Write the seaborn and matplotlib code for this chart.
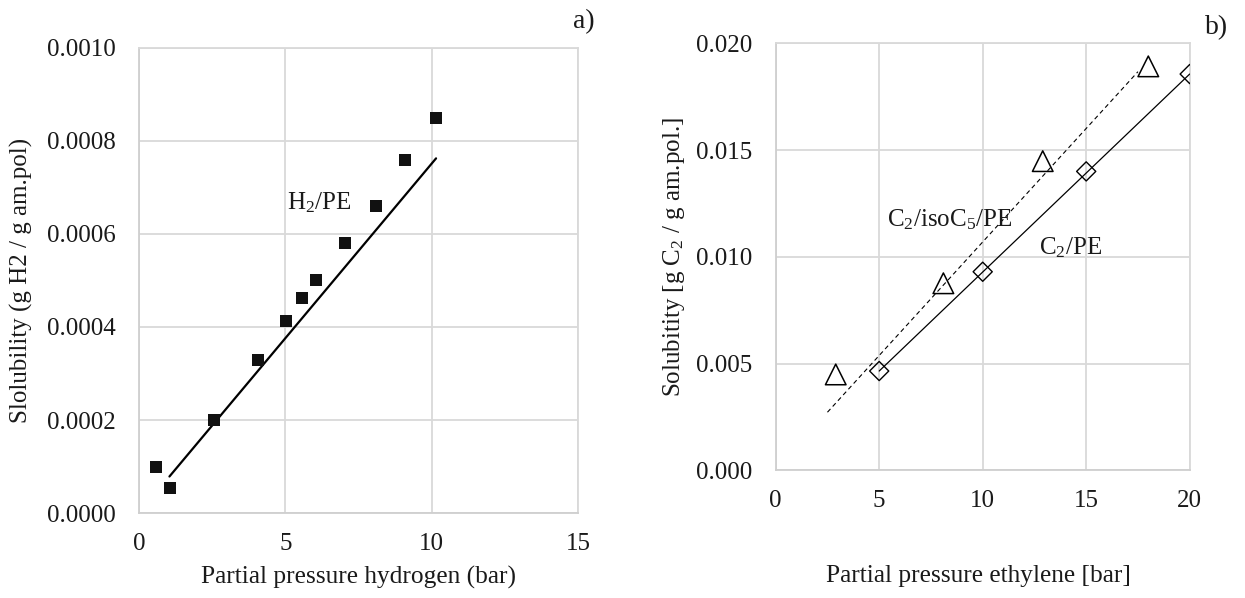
import matplotlib
matplotlib.use("Agg")
import matplotlib.pyplot as plt
import seaborn as sns
import pandas as pd

# ---- data: panel a) hydrogen solubility ----
h2_pressure = [0.57, 1.06, 2.56, 4.08, 5.03, 5.56, 6.06, 7.04, 8.10, 9.10, 10.14]
h2_solubility = [0.000100, 0.000055, 0.000200, 0.000330, 0.000413, 0.000463,
                 0.000500, 0.000581, 0.000659, 0.000758, 0.000848]
h2_fit_x = [1.04, 10.15]
h2_fit_y = [0.000079, 0.000762]

# ---- data: panel b) ethylene solubility ----
c2_pe_pressure = [5.0, 10.0, 15.0, 20.0]
c2_pe_solubility = [0.00465, 0.00930, 0.01400, 0.01856]
c2_pe_fit_x = [5.0, 20.0]
c2_pe_fit_y = [0.00465, 0.01856]

c2_iso_pressure = [2.9, 8.1, 12.9, 18.0]
c2_iso_solubility = [0.00449, 0.00876, 0.01448, 0.01892]
c2_iso_fit_x = [2.5, 17.5]
c2_iso_fit_y = [0.00272, 0.01867]

a_xticks = [0, 5, 10, 15]
a_yticks = [0.0000, 0.0002, 0.0004, 0.0006, 0.0008, 0.0010]
b_xticks = [0, 5, 10, 15, 20]
b_yticks = [0.000, 0.005, 0.010, 0.015, 0.020]

sns.set_theme(style="white")
plt.rcParams['font.family'] = ['Liberation Serif', 'DejaVu Serif']
plt.rcParams['mathtext.fontset'] = 'custom'
plt.rcParams['mathtext.rm'] = 'Liberation Serif'
plt.rcParams['mathtext.it'] = 'Liberation Serif:italic'

FS = 18
TXT = '#1a1a1a'
GRID = '#d9d9d9'

fig = plt.figure(figsize=(12.45, 5.98), dpi=100)
ax1 = fig.add_axes([139/1245, 1-513.3/598, (578-139)/1245, (513.3-47.5)/598])
ax2 = fig.add_axes([775.7/1245, 1-470.3/598, (1189.7-775.7)/1245, (470.3-43.3)/598])

df_a = pd.DataFrame({'p': h2_pressure, 's': h2_solubility})
df_afit = pd.DataFrame({'p': h2_fit_x, 's': h2_fit_y})
sns.lineplot(data=df_afit, x='p', y='s', ax=ax1, color='black', lw=1.6, zorder=3)
sns.scatterplot(data=df_a, x='p', y='s', ax=ax1, marker='s', s=75,
                color='#111111', edgecolor='none', zorder=4)

df_b1 = pd.DataFrame({'p': c2_pe_pressure, 's': c2_pe_solubility})
df_b1fit = pd.DataFrame({'p': c2_pe_fit_x, 's': c2_pe_fit_y})
df_b2 = pd.DataFrame({'p': c2_iso_pressure, 's': c2_iso_solubility})
df_b2fit = pd.DataFrame({'p': c2_iso_fit_x, 's': c2_iso_fit_y})
sns.lineplot(data=df_b1fit, x='p', y='s', ax=ax2, color='black', lw=0.9, zorder=3)
sns.lineplot(data=df_b2fit, x='p', y='s', ax=ax2, color='black', lw=0.8,
             linestyle=(0, (4, 3)), zorder=3)
sns.scatterplot(data=df_b1, x='p', y='s', ax=ax2, marker='D', s=95,
                facecolor='none', edgecolor='black', linewidth=1.0, zorder=4)
sns.scatterplot(data=df_b2, x='p', y='s', ax=ax2, marker='^', s=220,
                facecolor='none', edgecolor='black', linewidth=1.1, zorder=4)

for ax, xt, yt, xl, yl in [(ax1, a_xticks, a_yticks, (0, 15), (0, 0.001)),
                           (ax2, b_xticks, b_yticks, (0, 20), (0, 0.020))]:
    ax.set_xlim(*xl)
    ax.set_ylim(*yl)
    ax.set_xticks(xt)
    ax.set_yticks(yt)
    ax.grid(True, color=GRID, lw=1.3)
    ax.set_axisbelow(True)
    for sp in ax.spines.values():
        sp.set_color(GRID)
        sp.set_linewidth(1.3)
    ax.spines['left'].set_color('#cfcfcf')
    ax.spines['bottom'].set_color('#cfcfcf')
    ax.tick_params(axis='both', length=0, labelsize=FS, labelcolor=TXT)
    ax.tick_params(axis='y', pad=17)
    ax.tick_params(axis='x', pad=14)

ax1.set_yticklabels([f"{v:.4f}" for v in a_yticks])
ax2.set_yticklabels([f"{v:.3f}" for v in b_yticks])

ax1.set_xlabel("Partial pressure hydrogen (bar)", fontsize=FS + 0.3, color=TXT)
ax1.set_ylabel("Slolubility (g H2 / g am.pol)", fontsize=FS, color=TXT)
ax2.set_xlabel("Partial pressure ethylene [bar]", fontsize=FS + 0.3, color=TXT)
ax2.set_ylabel(r"Solubitity [g C$_2$ / g am.pol.]", fontsize=FS, color=TXT)
ax1.xaxis.set_label_coords(0.5, -0.112)
ax1.yaxis.set_label_coords(-0.241, 0.5)
ax2.xaxis.set_label_coords(0.49, -0.222)
ax2.yaxis.set_label_coords(-0.214, 0.5)

ax1.text(5.05, 0.000652, r"H$_2$/PE", fontsize=FS, color=TXT, va='baseline', ha='left')
ax2.text(5.36, 0.01144, r"C$_2$/isoC$_5$/PE", fontsize=FS, color=TXT, va='baseline', ha='left')
ax2.text(12.73, 0.01013, r"C$_2$/PE", fontsize=FS, color=TXT, va='baseline', ha='left')

fig.text(584/1245, 1-22/598, "a)", fontsize=FS + 2, color=TXT, ha='center', va='center')
fig.text(1217/1245, 1-28/598, "b)", fontsize=FS + 2, color=TXT, ha='center', va='center')

fig.savefig("out.png", dpi=100)
